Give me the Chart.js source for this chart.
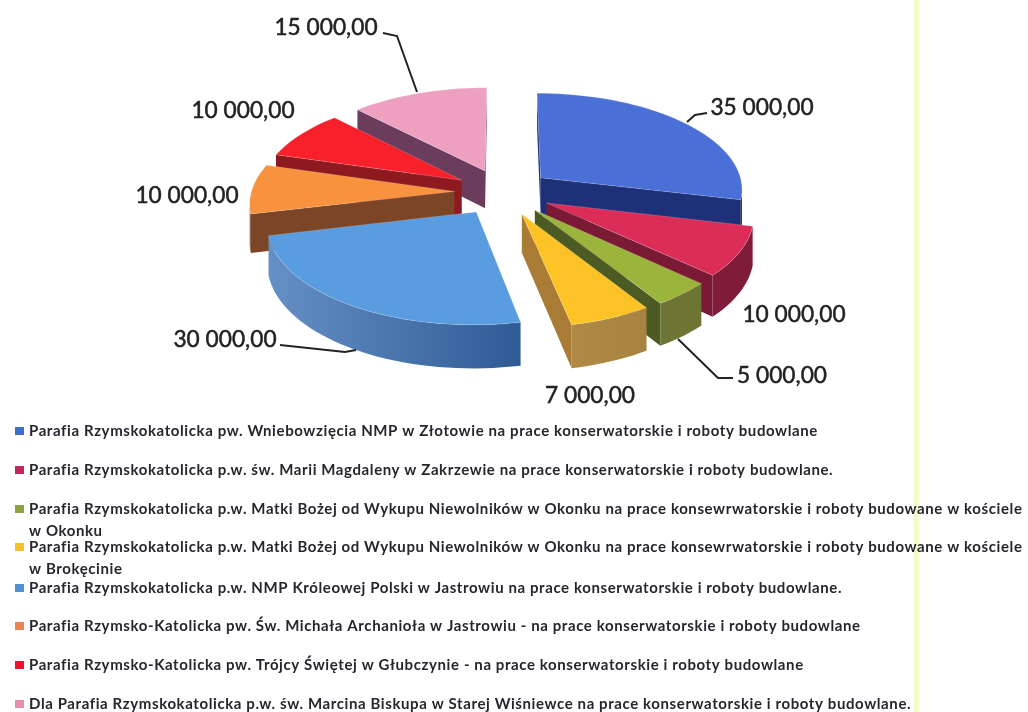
<!DOCTYPE html>
<html lang="pl">
<head>
<meta charset="utf-8">
<title>Parafie - dotacje</title>
<script src="https://cdn.jsdelivr.net/npm/chart.js@4/dist/chart.umd.min.js"></script>
<style>
    html, body { margin: 0; padding: 0; background: #fff; }
    canvas { display: block; }
</style>
</head>
<body>
<canvas id="pie" width="1028" height="712"></canvas>
<script>
// Grant amounts per parish
const parishes = [
    'Parafia Rzymskokatolicka pw. Wniebowzięcia NMP w Złotowie na prace konserwatorskie i roboty budowlane',
    'Parafia Rzymskokatolicka p.w. św. Marii Magdaleny w Zakrzewie na prace konserwatorskie i roboty budowlane.',
    'Parafia Rzymskokatolicka p.w. Matki Bożej od Wykupu Niewolników w Okonku na prace konsewrwatorskie i roboty budowane w kościele\nw Okonku',
    'Parafia Rzymskokatolicka p.w. Matki Bożej od Wykupu Niewolników w Okonku na prace konsewrwatorskie i roboty budowane w kościele\nw Brokęcinie',
    'Parafia Rzymskokatolicka p.w. NMP Króleowej Polski w Jastrowiu na prace konserwatorskie i roboty budowlane.',
    'Parafia Rzymsko-Katolicka pw. Św. Michała Archanioła w Jastrowiu - na prace konserwatorskie i roboty budowlane',
    'Parafia Rzymsko-Katolicka pw. Trójcy Świętej w Głubczynie - na prace konserwatorskie i roboty budowlane',
    'Dla Parafia Rzymskokatolicka p.w. św. Marcina Biskupa w Starej Wiśniewce na prace konserwatorskie i roboty budowlane.'
];
const amounts = [35000, 10000, 5000, 7000, 30000, 10000, 10000, 15000];

// Slice colours
const topColors = ['#4a70d8', '#dc2c58', '#9bb43c', '#fdc225', '#5a9ce0', '#f8923e', '#f8202a', '#eea0c0'];
const wallColors = ['#1d3078', '#7a1a34', '#4c5a24', '#a87c34', '#3a6298', '#7c4526', '#8e1a20', '#6c3c5c'];
const rimRightColors = ['#22397f', '#7e1c38', '#6e7434', '#a88240', '#2f5a94', '#80482a', '#98201f', '#74405f'];
const rimLeftColors = ['#22397f', '#8c2040', '#6e7434', '#b48e48', '#6490c6', '#80482a', '#98201f', '#74405f'];
const swatchColors = ['#3f6fc8', '#c2285a', '#8ea33f', '#f5c02c', '#4e92d4', '#ec8450', '#f0142c', '#e58fb0'];

// Projection of the pie plane onto the page
const view = { cx: 503, cy: 192, rx: 203, ry: 96.4, perspective: 0.106, explode: 0.24, depth: 38 };

// Value labels with optional leader lines
const valueLabels = [
    { x: 762, y: 108, line: [[707, 113], [695, 115], [687, 122]] },
    { x: 794, y: 315 },
    { x: 782, y: 376, line: [[733, 378], [718, 378], [678, 339]] },
    { x: 590, y: 396 },
    { x: 225, y: 340, line: [[280, 345], [345, 352], [356, 350]] },
    { x: 187, y: 196 },
    { x: 243, y: 111 },
    { x: 326, y: 28, line: [[383, 33], [397, 36], [417, 92]] }
];

// First-line centre of every legend row
const legendRows = [431, 470, 509, 547, 588, 626, 665, 704];

function project(X, Y) {
    const s = 1 / (1 - view.perspective * Y);
    return { x: view.cx + view.rx * X * s, y: view.cy + view.ry * Y * s, s: s };
}

/**
 * Outline of one exploded wedge: apex first, then the outer rim clockwise
 */
function wedgeOutline(arc) {
    const start = arc.startAngle + Math.PI / 2;
    const end = arc.endAngle + Math.PI / 2;
    const mid = (start + end) / 2;
    const ox = Math.sin(mid) * view.explode;
    const oy = -Math.cos(mid) * view.explode;
    const points = [project(ox, oy)];
    const steps = Math.max(2, Math.ceil((end - start) / 0.04));
    for (let i = 0; i <= steps; i++) {
        const a = start + (end - start) * i / steps;
        points.push(project(ox + Math.sin(a), oy - Math.cos(a)));
    }
    return { points, nearness: oy };
}

/**
 * Fill the side face hanging below a run of outline points
 */
function fillSide(ctx, run, paint) {
    ctx.fillStyle = paint;
    ctx.beginPath();
    run.forEach((p, i) => (i ? ctx.lineTo(p.x, p.y) : ctx.moveTo(p.x, p.y)));
    for (let i = run.length - 1; i >= 0; i--) {
        ctx.lineTo(run[i].x, run[i].y + view.depth * run[i].s);
    }
    ctx.closePath();
    ctx.fill();
}

function drawWedge(ctx, outline, index) {
    const pts = outline.points;
    const last = pts.length - 1;
    const xs = pts.map(p => p.x);

    // Rim shading runs across the width of the wedge
    const rim = ctx.createLinearGradient(Math.min(...xs), 0, Math.max(...xs), 0);
    rim.addColorStop(0, rimLeftColors[index]);
    rim.addColorStop(1, rimRightColors[index]);

    // Only the faces turned towards the viewer are visible
    if (pts[1].x < pts[0].x) fillSide(ctx, [pts[0], pts[1]], wallColors[index]);
    if (pts[0].x < pts[last].x) fillSide(ctx, [pts[last], pts[0]], wallColors[index]);

    let run = [];
    for (let i = 1; i < last; i++) {
        if (pts[i + 1].x < pts[i].x) {
            if (!run.length) run.push(pts[i]);
            run.push(pts[i + 1]);
        } else if (run.length) {
            fillSide(ctx, run, rim);
            run = [];
        }
    }
    if (run.length) fillSide(ctx, run, rim);

    ctx.beginPath();
    pts.forEach((p, i) => (i ? ctx.lineTo(p.x, p.y) : ctx.moveTo(p.x, p.y)));
    ctx.closePath();
    ctx.fillStyle = topColors[index];
    ctx.fill();
    ctx.lineWidth = 1;
    ctx.strokeStyle = 'rgba(255, 255, 255, 0.18)';
    ctx.stroke();
}

function drawValueLabels(ctx) {
    ctx.font = '22.7px Lato';
    ctx.fillStyle = '#222';
    ctx.textAlign = 'center';
    ctx.textBaseline = 'middle';
    ctx.strokeStyle = '#222';
    amounts.forEach((value, i) => {
        const spot = valueLabels[i];
        const text = value.toLocaleString('pl-PL', { minimumFractionDigits: 2, useGrouping: false })
            .replace(/^(\d+)(\d{3})/, '$1 $2');
        ctx.fillText(text, spot.x, spot.y);
        ctx.lineWidth = 0.5;
        ctx.strokeText(text, spot.x, spot.y);
        if (spot.line) {
            ctx.lineWidth = 2;
            ctx.beginPath();
            spot.line.forEach(([x, y], j) => (j ? ctx.lineTo(x, y) : ctx.moveTo(x, y)));
            ctx.stroke();
        }
    });
}

function drawLegend(ctx, chart) {
    ctx.font = '700 15px Lato';
    ctx.letterSpacing = '0.6px';
    ctx.textAlign = 'left';
    ctx.textBaseline = 'middle';
    chart.data.labels.forEach((label, i) => {
        const y = legendRows[i];
        ctx.fillStyle = swatchColors[i];
        ctx.fillRect(15, y - 4, 9, 8);
        ctx.fillStyle = '#26262e';
        label.split('\n').forEach((line, n) => ctx.fillText(line, 29, y + n * 22));
    });
    ctx.letterSpacing = '0px';
}

// Paints the tilted pie in place of the flat arcs
const tiltedPie = {
    id: 'tiltedPie',
    beforeDatasetsDraw(chart) {
        const ctx = chart.ctx;
        ctx.save();

        // Pale vertical streak on the right side of the sheet
        const streak = ctx.createLinearGradient(913, 0, 920, 0);
        streak.addColorStop(0, '#fdfee8');
        streak.addColorStop(0.4, '#f4f9b4');
        streak.addColorStop(1, '#fefff0');
        ctx.fillStyle = streak;
        ctx.fillRect(913, 0, 7, chart.height);

        const wedges = chart.getDatasetMeta(0).data.map((arc, index) => ({ index, outline: wedgeOutline(arc) }));
        wedges.sort((a, b) => a.outline.nearness - b.outline.nearness);
        wedges.forEach(w => drawWedge(ctx, w.outline, w.index));

        drawValueLabels(ctx);
        drawLegend(ctx, chart);
        ctx.restore();
        return false;
    }
};

new Chart(document.getElementById('pie'), {
    type: 'pie',
    data: {
        labels: parishes,
        datasets: [{ data: amounts, backgroundColor: topColors }]
    },
    options: {
        responsive: false,
        animation: false,
        plugins: { legend: { display: false }, tooltip: { enabled: false } }
    },
    plugins: [tiltedPie]
});
</script>
</body>
</html>
